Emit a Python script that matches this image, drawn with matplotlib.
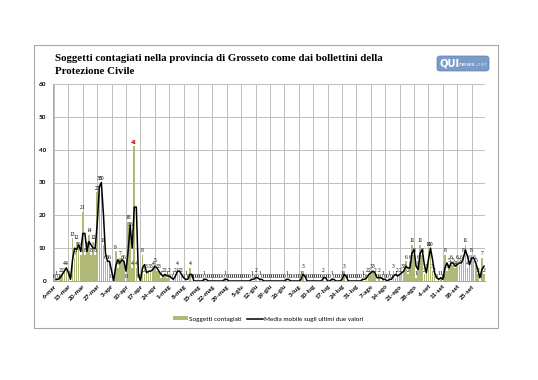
import numpy as np
import matplotlib
matplotlib.use("Agg")
import matplotlib.pyplot as plt
from matplotlib.patches import Rectangle, FancyBboxPatch
from matplotlib.lines import Line2D

title = "Soggetti contagiati nella provincia di Grosseto come dai bollettini della\nProtezione Civile"
bar_label_name = "Soggetti contagiati"
line_label_name = "Media mobile sugli ultimi due valori"

# weekly tick labels (first day = 6-mar, one label every 7 days)
tick_labels = ["6-mar", "13-mar", "20-mar", "27-mar", "3-apr", "10-apr", "17-apr", "24-apr",
               "1-mag", "8-mag", "15-mag", "22-mag", "29-mag", "5-giu", "12-giu", "19-giu",
               "26-giu", "3-lug", "10-lug", "17-lug", "24-lug", "31-lug", "7-ago", "14-ago",
               "21-ago", "28-ago", "4-set", "11-set", "18-set", "25-set"]

# daily new cases from 6-mar to 1-ott
cases = [0, 1, 0, 2, 2, 4, 4, 1, 0, 13,
         7, 12, 10, 8, 21, 8, 10, 14, 8, 12,
         8, 27, 30, 30, 11, 6, 6, 6, 0, 0,
         9, 4, 7, 6, 6, 0, 18, 16, 4, 41,
         4, 0, 0, 8, 2, 3, 3, 3, 4, 5,
         3, 3, 1, 2, 2, 1, 2, 0, 1, 2,
         4, 2, 2, 0, 1, 0, 4, 0, 0, 0,
         0, 0, 0, 1, 0, 0, 0, 0, 0, 0,
         0, 0, 0, 1, 0, 0, 0, 0, 0, 0,
         0, 0, 0, 0, 0, 0, 1, 0, 2, 0,
         1, 0, 0, 0, 0, 0, 0, 0, 0, 0,
         0, 0, 0, 1, 0, 0, 0, 0, 0, 0,
         1, 3, 0, 0, 0, 0, 0, 0, 0, 0,
         0, 2, 0, 0, 0, 1, 0, 0, 0, 0,
         1, 3, 0, 0, 0, 0, 0, 0, 0, 0,
         1, 0, 2, 2, 3, 3, 2, 0, 2, 0,
         1, 0, 0, 1, 0, 3, 1, 2, 2, 3,
         3, 6, 2, 6, 11, 8, 1, 6, 11, 8,
         2, 3, 10, 10, 3, 2, 0, 1, 1, 0,
         8, 3, 5, 6, 5, 4, 6, 5, 6, 8,
         11, 4, 6, 8, 6, 5, 2, 0, 7, 2]

y_ticks = [0, 10, 20, 30, 40, 50, 60]

W, H = 538, 380
fig = plt.figure(figsize=(W / 100, H / 100), dpi=100)
fig.patch.set_facecolor("white")

# outer frame
fig.patches.append(Rectangle((34 / W, 1 - 328 / H), 464 / W, 283 / H, transform=fig.transFigure,
                             fill=False, edgecolor="#A6A6A6", linewidth=0.8))

ax = fig.add_axes([53 / W, 1 - 281 / H, 432 / W, 197 / H])
x = np.arange(len(cases))
vals = np.array(cases, dtype=float)
ma = np.full(len(vals), np.nan)
ma[1:] = (vals[1:] + vals[:-1]) / 2

bar_color = "#B0B978"
bars = ax.bar(x, vals, width=0.75, color=bar_color, zorder=2)
ax.plot(x[1:], ma[1:], color="black", linewidth=1.1, zorder=4)

labels = ax.bar_label(bars, labels=[str(int(v)) for v in vals], padding=1.2,
                      fontsize=4.0, family="Liberation Serif", zorder=3)
imax = int(np.argmax(vals))
labels[imax].set_color("#C00000")
labels[imax].set_fontweight("bold")
labels[imax].set_fontsize(4.4)

ax.set_xlim(-0.5, len(cases) - 0.5)
ax.set_ylim(0, 60)
ax.set_yticks(y_ticks)
ax.set_yticklabels([str(t) for t in y_ticks], fontsize=4.6, fontweight="bold", family="Lato")
tick_pos = np.arange(len(tick_labels)) * 7
ax.set_xticks(tick_pos)
ax.set_xticklabels(tick_labels, rotation=45, ha="right", va="top", rotation_mode="anchor",
                   fontsize=4.6, fontweight="bold", family="Lato")
ax.tick_params(axis="y", length=0, pad=5)
ax.tick_params(axis="x", length=0, pad=2)
ax.grid(True, color="#BFBFBF", linewidth=0.7, zorder=0)
ax.set_axisbelow(True)
for s in ["top", "right"]:
    ax.spines[s].set_visible(False)
ax.spines["left"].set_color("#A6A6A6")
ax.spines["left"].set_linewidth(0.7)
ax.spines["bottom"].set_color("#A6A6A6")
ax.spines["bottom"].set_linewidth(0.7)

# title
fig.text(55 / W, 1 - 54 / H, title, ha="left", va="top", fontsize=7.8, fontweight="bold",
         family="Liberation Serif", linespacing=1.55)

# logo
logo = FancyBboxPatch((437 / W, 1 - 71 / H), 52 / W, 15 / H, transform=fig.transFigure,
                      boxstyle="round,pad=0,rounding_size=0.006", facecolor="#7C9CC8",
                      edgecolor="#5F7FAE", linewidth=0.5)
fig.patches.append(logo)
fig.text(439 / W, 1 - 63.5 / H, "QUI", ha="left", va="center", fontsize=7.2, fontweight="bold",
         color="white", family="DejaVu Sans")
fig.text(458 / W, 1 - 64 / H, "news", ha="left", va="center", fontsize=4.6, color="white",
         family="DejaVu Sans")
fig.text(476 / W, 1 - 64 / H, ".net", ha="left", va="center", fontsize=4.2, color="#C8D6EA",
         family="DejaVu Sans", style="italic")

# legend
handles = [Rectangle((0, 0), 1, 1, facecolor=bar_color, edgecolor="none"),
           Line2D([0], [0], color="black", linewidth=1.1)]
fig.legend(handles, [bar_label_name, line_label_name], loc="center", ncol=2,
           bbox_to_anchor=(268 / W, 1 - 319 / H), frameon=False,
           prop={"family": "Lato", "size": 4.6}, handlelength=2.4, handleheight=0.6,
           columnspacing=0.8, handletextpad=0.2)

fig.savefig("out.png", dpi=100, facecolor="white")
